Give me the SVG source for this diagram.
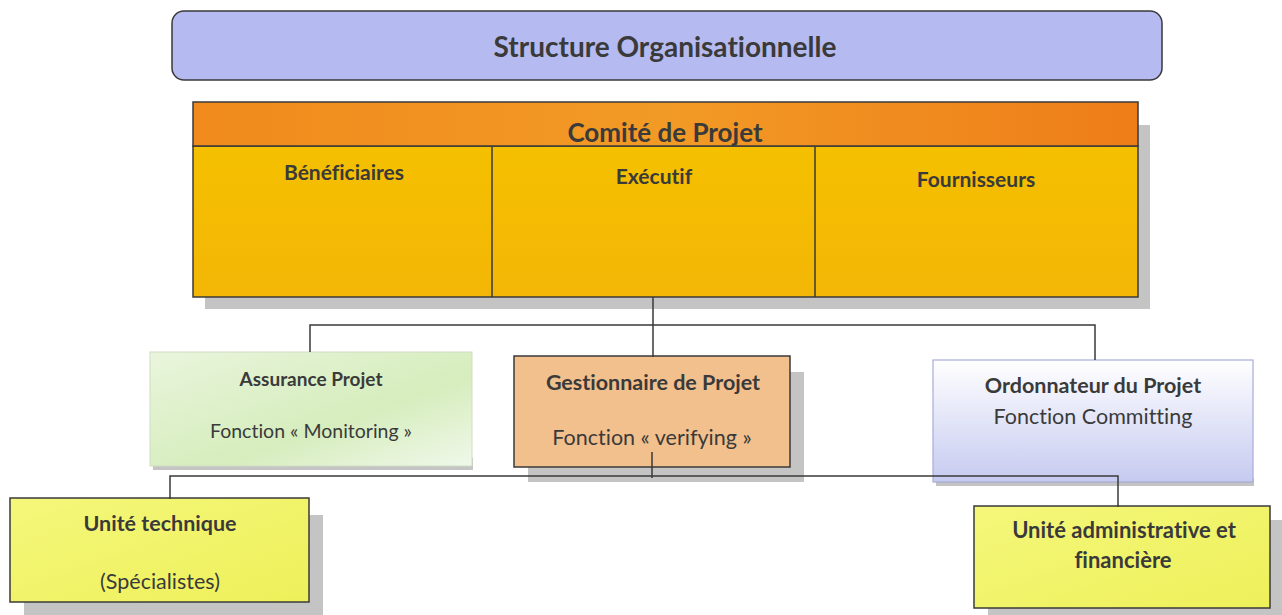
<svg xmlns="http://www.w3.org/2000/svg" width="1282" height="615" viewBox="0 0 1282 615">
  <style>
    text { font-family: Lato, "Open Sans", "Liberation Sans", sans-serif; fill: #3a3a3a; text-anchor: middle; font-variant-ligatures: none; }
    .b { font-weight: bold; }
    .box { stroke: #3a3a3a; stroke-width: 1.5; }
    .shadow { fill: #c4c4c4; }
    .link { fill: none; stroke: #3a3a3a; stroke-width: 1.5; }
  </style>
  <defs>
    <linearGradient id="gHead" x1="0" y1="0" x2="1" y2="0">
      <stop offset="0" stop-color="#f08a1c"/>
      <stop offset="0.5" stop-color="#f29a26"/>
      <stop offset="1" stop-color="#ee7d18"/>
    </linearGradient>
    <linearGradient id="gBody" x1="0" y1="0" x2="0" y2="1">
      <stop offset="0" stop-color="#f5c000"/>
      <stop offset="1" stop-color="#f3b606"/>
    </linearGradient>
    <linearGradient id="gGreen" x1="0" y1="0" x2="1" y2="1">
      <stop offset="0" stop-color="#e9f5dc"/>
      <stop offset="0.6" stop-color="#d6edbd"/>
      <stop offset="1" stop-color="#f0f8ea"/>
    </linearGradient>
    <linearGradient id="gBlue" x1="0" y1="0" x2="0" y2="1">
      <stop offset="0" stop-color="#ffffff"/>
      <stop offset="1" stop-color="#c6caf0"/>
    </linearGradient>
    <linearGradient id="gYellow" x1="0" y1="0" x2="1" y2="1">
      <stop offset="0" stop-color="#f4f77a"/>
      <stop offset="1" stop-color="#eef05a"/>
    </linearGradient>
  </defs>

  <!-- title banner -->
  <g id="title">
    <rect x="172" y="11" width="990" height="69" rx="12" fill="#b5bbf1" stroke="#3a3a3a" stroke-width="1.5"/>
    <text class="b" x="665" y="57" font-size="28">Structure Organisationnelle</text>
  </g>

  <!-- project committee -->
  <g id="comite">
    <rect class="shadow" x="205" y="125" width="945" height="184"/>
    <rect x="193" y="146" width="945" height="151" fill="url(#gBody)" class="box"/>
    <rect x="193" y="102" width="945" height="44" fill="url(#gHead)" class="box"/>
    <line x1="492" y1="146" x2="492" y2="297" class="box"/>
    <line x1="815" y1="146" x2="815" y2="297" class="box"/>
    <text class="b" x="665" y="142" font-size="26">Comité de Projet</text>
    <text class="b" x="344" y="180" font-size="21">Bénéficiaires</text>
    <text class="b" x="654" y="184" font-size="21">Exécutif</text>
    <text class="b" x="976" y="187" font-size="21">Fournisseurs</text>
  </g>

  <g id="assurance">
    <rect class="shadow" x="153" y="458" width="320" height="12"/>
    <rect x="150" y="352" width="322" height="114" fill="url(#gGreen)" stroke="#d0dcc4" stroke-width="1"/>
    <text class="b" x="311" y="386" font-size="19">Assurance Projet</text>
    <text x="311" y="438" font-size="19.5">Fonction « Monitoring »</text>
  </g>

  <g id="gestionnaire">
    <rect class="shadow" x="528" y="372" width="276" height="110"/>
    <rect x="514" y="356" width="276" height="111" fill="#f2c08c" class="box"/>
    <text class="b" x="653" y="390" font-size="21.5">Gestionnaire de Projet</text>
    <text x="652" y="445" font-size="21.5">Fonction « verifying »</text>
  </g>

  <g id="ordonnateur">
    <rect class="shadow" x="936" y="478" width="318" height="8"/>
    <rect x="933" y="360" width="320" height="122" fill="url(#gBlue)" stroke="#a8acd8" stroke-width="1.2"/>
    <text class="b" x="1093" y="393" font-size="21.5">Ordonnateur du Projet</text>
    <text x="1093" y="424" font-size="21.5">Fonction Committing</text>
  </g>

  <g id="technique">
    <rect class="shadow" x="24" y="515" width="299" height="100"/>
    <rect x="10" y="498" width="299" height="104" fill="url(#gYellow)" class="box"/>
    <text class="b" x="160" y="531" font-size="21.5">Unité technique</text>
    <text x="160" y="589" font-size="21.5">(Spécialistes)</text>
  </g>

  <g id="administrative">
    <rect class="shadow" x="988" y="520" width="294" height="95"/>
    <rect x="974" y="506" width="296" height="102" fill="url(#gYellow)" class="box"/>
    <text class="b" x="1124" y="538" font-size="22">Unité administrative et</text>
    <text class="b" x="1123" y="568" font-size="22">financière</text>
  </g>

  <!-- connectors, drawn above the boxes -->
  <g id="connectors">
    <path class="link" d="M653 297 V328 M310 352 V325 H1095 V360 M653 328 V357"/>
    <path class="link" d="M652 452 V478 M170 499 V476 H1118 V507"/>
  </g>
</svg>
